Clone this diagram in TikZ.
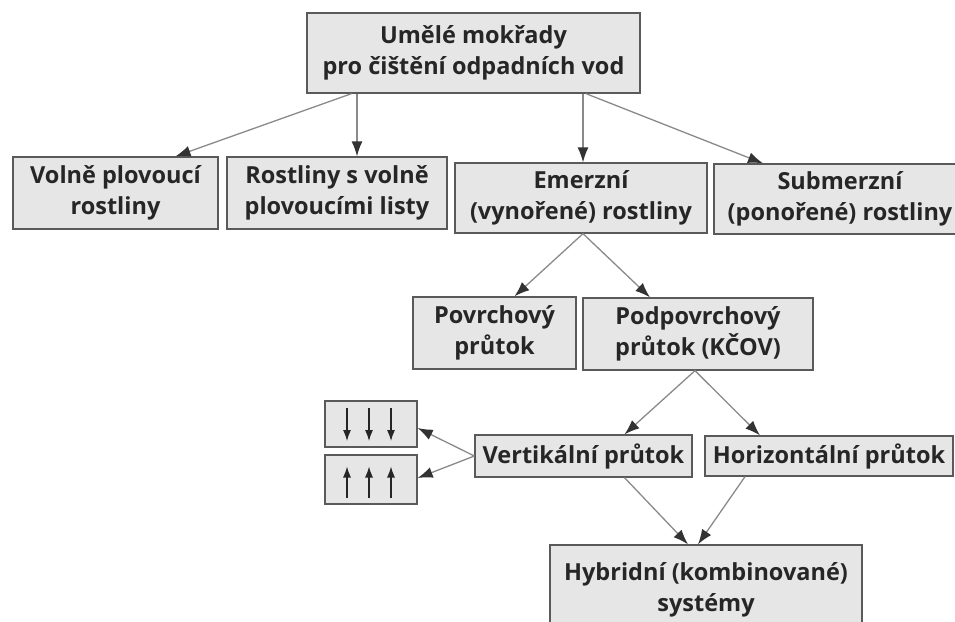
\documentclass[tikz,border=0pt]{standalone}
\usepackage{fontspec}
\setmainfont{Open Sans}
\usetikzlibrary{arrows.meta}
\definecolor{boxfill}{HTML}{E6E6E6}
\definecolor{boxline}{HTML}{5A5A5A}
\definecolor{conline}{HTML}{8A8A8A}
\definecolor{tipcol}{HTML}{333333}
\definecolor{txtcol}{HTML}{262626}
\tikzset{
  box/.style={draw=boxline, line width=1.3pt, fill=boxfill, align=center, inner sep=0pt,
    text=txtcol, font=\fontsize{23.5}{31}\selectfont\bfseries},
  conn/.style={draw=conline, line width=1.3pt, -{Latex[length=15pt,width=11pt,color=tipcol]}},
  inarrow/.style={draw=txtcol, line width=1.2pt, -{Latex[length=11pt,width=8pt]}},
}
\begin{document}
\begin{tikzpicture}[x=1pt,y=-1pt]
\useasboundingbox (0,0) rectangle (955,621);
\clip (0,0) rectangle (955,621);
\fill[white] (0,0) rectangle (955,621);
\node[box, minimum width=333pt, minimum height=80pt] (top) at (473.5,53) {Umělé mokřady\\pro čištění odpadních vod};
\node[box, minimum width=205pt, minimum height=72pt] (volne) at (115.5,193) {Volně plovoucí\\rostliny};
\node[box, minimum width=220pt, minimum height=72pt] (rost) at (337,193) {Rostliny s volně\\plovoucími listy};
\node[box, minimum width=252pt, minimum height=70pt] (emer) at (581,198) {Emerzní\\(vynořené) rostliny};
\node[box, minimum width=252pt, minimum height=70pt] (sub) at (840,199) {Submerzní\\(ponořené) rostliny};
\node[box, minimum width=163pt, minimum height=72pt] (povr) at (494.5,333) {Povrchový\\průtok};
\node[box, minimum width=230pt, minimum height=72pt] (podp) at (698,334) {Podpovrchový\\průtok (KČOV)};
\node[box, minimum width=217pt, minimum height=42pt] (vert) at (583.5,456) {Vertikální průtok};
\node[box, minimum width=248pt, minimum height=40pt] (horiz) at (829,456) {Horizontální průtok};
\node[box, minimum width=312pt, minimum height=90pt] (hyb) at (706,590) {Hybridní (kombinované)\\systémy};
\node[box, minimum width=92pt, minimum height=46pt] (sdown) at (371,424) {};
\node[box, minimum width=92pt, minimum height=49pt] (sup) at (371,479.5) {};
% inner arrows
\foreach \dx in {-24,-2,20} {
  \draw[inarrow] ([xshift=\dx pt, yshift=16pt]sdown.center) -- ([xshift=\dx pt, yshift=-17pt]sdown.center);
  \draw[inarrow] ([xshift=\dx pt, yshift=-18.5pt]sup.center) -- ([xshift=\dx pt, yshift=13pt]sup.center);
}
% connectors
\draw[conn] ([xshift=-122pt]top.south) -- ([xshift=60pt]volne.north);
\draw[conn] ([xshift=-116.5pt]top.south) -- ([xshift=20pt]rost.north);
\draw[conn] ([xshift=109.5pt]top.south) -- ([xshift=2pt]emer.north);
\draw[conn] ([xshift=112.5pt]top.south) -- ([xshift=-77pt]sub.north);
\draw[conn] ([xshift=2pt]emer.south) -- ([xshift=20pt]povr.north);
\draw[conn] ([xshift=2pt]emer.south) -- ([xshift=-48pt]podp.north);
\draw[conn] ([xshift=-3pt]podp.south) -- ([xshift=41pt]vert.north);
\draw[conn] ([xshift=-3pt]podp.south) -- ([xshift=-69pt]horiz.north);
\draw[conn] (vert.west) -- ([yshift=-4pt]sdown.east);
\draw[conn] (vert.west) -- ([yshift=1.5pt]sup.east);
\draw[conn] ([xshift=41pt]vert.south) -- ([xshift=-18pt]hyb.north);
\draw[conn] ([xshift=-84pt]horiz.south) -- ([xshift=-8pt]hyb.north);
\end{tikzpicture}
\end{document}
